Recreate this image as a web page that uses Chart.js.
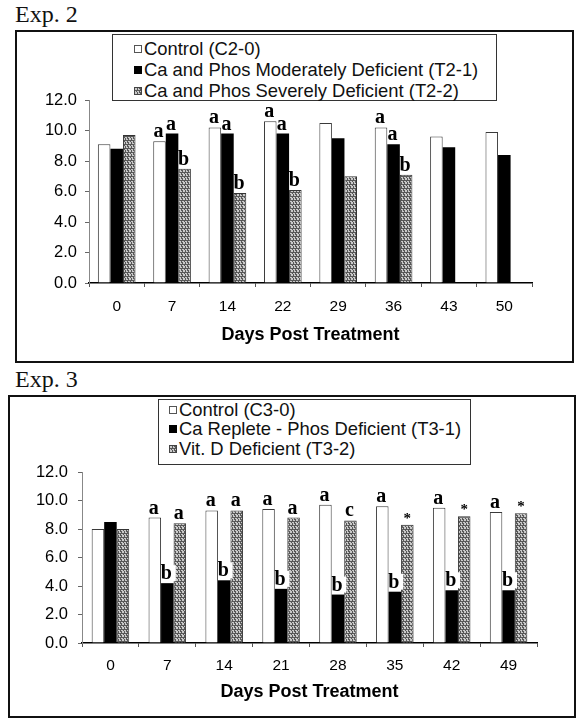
<!DOCTYPE html>
<html>
<head>
<meta charset="utf-8">
<script src="https://cdn.jsdelivr.net/npm/chart.js@4.4.1/dist/chart.umd.min.js"></script>
<style>
body { margin: 0; background: #fff; width: 577px; height: 719px; position: relative; overflow: hidden; font-family: "Liberation Sans", Arial, sans-serif; }
.exp { position: absolute; left: 15px; font-family: "Liberation Serif", "Times New Roman", serif; font-size: 24px; line-height: 24px; color: #111; }
.frame { position: absolute; box-sizing: border-box; border: 2px solid #111; pointer-events: none; }
canvas { position: absolute; }
.legend { position: absolute; box-sizing: border-box; border: 1px solid #333; background: #fff; font-size: 18.4px; color: #111; }
.legend .row { display: flex; align-items: center; white-space: nowrap; }
.legend .sw { width: 8px; height: 8px; box-sizing: border-box; margin-right: 2px; flex: none; }
</style>
</head>
<body>
<div class="exp" style="top:2px">Exp. 2</div>
<canvas id="chart2" width="559" height="333" style="left:15px;top:30px"></canvas>
<div class="frame" style="left:15px;top:30px;width:559px;height:333px"></div>
<div class="legend" id="legend2" style="left:112px;top:34px;width:385px;height:67px;padding:3px 0 0 21px"></div>

<div class="exp" style="top:367px">Exp. 3</div>
<canvas id="chart3" width="569" height="323" style="left:8px;top:395px"></canvas>
<div class="frame" style="left:8px;top:395px;width:568px;height:323px"></div>
<div class="legend" id="legend3" style="left:158px;top:399px;width:313px;height:66px;padding:0 0 0 10px"></div>

<script>
// Exp. 2
var days2 = ['0', '7', '14', '22', '29', '36', '43', '50'];
var names2 = ['Control (C2-0)', 'Ca and Phos Moderately Deficient (T2-1)', 'Ca and Phos Severely Deficient (T2-2)'];
var control2 = [9.1, 9.3, 10.2, 10.6, 10.5, 10.2, 9.6, 9.9];
var moderate2 = [8.8, 9.8, 9.8, 9.8, 9.5, 9.1, 8.9, 8.4];
var severe2 = [9.7, 7.5, 5.9, 6.1, 7.0, 7.1, null, null];
var marksControl2 = ['', 'a', 'a', 'a', '', 'a', '', ''];
var marksModerate2 = ['', 'a', 'a', 'a', '', 'a', '', ''];
var marksSevere2 = ['', 'b', 'b', 'b', '', 'b', '', ''];

// Exp. 3
var days3 = ['0', '7', '14', '21', '28', '35', '42', '49'];
var names3 = ['Control (C3-0)', 'Ca Replete - Phos Deficient (T3-1)', 'Vit. D Deficient (T3-2)'];
var control3 = [8.0, 8.8, 9.3, 9.4, 9.7, 9.6, 9.5, 9.2];
var phos3 = [8.5, 4.2, 4.4, 3.8, 3.4, 3.6, 3.7, 3.7];
var vitd3 = [8.0, 8.4, 9.3, 8.8, 8.6, 8.3, 8.9, 9.1];
var marksControl3 = ['', 'a', 'a', 'a', 'a', 'a', 'a', 'a'];
var marksPhos3 = ['', 'b', 'b', 'b', 'b', 'b', 'b', 'b'];
var marksVitd3 = ['', 'a', 'a', 'a', 'c', '*', '*', '*'];

var yMax = 12;
var yStep = 2;
var xTitle = 'Days Post Treatment';

function makeHatch() {
    var c = document.createElement('canvas');
    c.width = 6;
    c.height = 4;
    var g = c.getContext('2d');
    var rows = ['LLDLDD', 'LLDLLD', 'DDDDDD', 'LDLLDL'];
    for (var r = 0; r < rows.length; r++) {
        for (var k = 0; k < 6; k++) {
            g.fillStyle = rows[r][k] == 'L' ? '#c9c9c9' : '#575757';
            g.fillRect(k, r, 1, 1);
        }
    }
    return c;
}

var hatchCanvas = makeHatch();
var hatch = document.createElement('canvas').getContext('2d').createPattern(hatchCanvas, 'repeat');
var fills = ['#ffffff', '#000000', hatch];
var edges = ['#3a3a3a', '#000000', '#333333'];

const marksPlugin = {
    id: 'marks',
    afterDatasetsDraw(chart, args, opts) {
        const ctx = chart.ctx;
        ctx.save();
        ctx.textAlign = 'center';
        ctx.textBaseline = 'alphabetic';
        (opts.list || []).forEach(function (list, i) {
            const meta = chart.getDatasetMeta(i);
            list.forEach(function (m, j) {
                if (!m || !meta.data[j]) return;
                const bar = meta.data[j];
                if (m == '*') {
                    ctx.font = 'bold 15px "Liberation Serif"';
                    ctx.fillStyle = '#000';
                    ctx.fillText(m, bar.x, bar.y - 2);
                } else {
                    ctx.font = 'bold 20px "Liberation Serif"';
                    if (opts.boxed && opts.boxed[i]) {
                        ctx.fillStyle = '#fff';
                        ctx.fillRect(bar.x - 5.5, bar.y - 18, 14, 16);
                    }
                    ctx.fillStyle = '#000';
                    ctx.fillText(m, bar.x - 1, bar.y - 4);
                }
            });
        });
        ctx.restore();
    }
};

function buildLegend(id, names) {
    var box = document.getElementById(id);
    names.forEach(function (name, i) {
        var row = document.createElement('div');
        row.className = 'row';
        row.style.height = id == 'legend2' ? '21px' : '19.5px';
        var sw = document.createElement('span');
        sw.className = 'sw';
        if (i == 0) {
            sw.style.background = '#fff';
            sw.style.border = '1px solid #555';
        } else if (i == 1) {
            sw.style.background = '#000';
        } else {
            sw.style.backgroundImage = 'url(' + hatchCanvas.toDataURL() + ')';
            sw.style.border = '1px solid #444';
        }
        var txt = document.createElement('span');
        txt.textContent = name;
        row.appendChild(sw);
        row.appendChild(txt);
        box.appendChild(row);
    });
}

function renderGraph(id, days, names, series, marks, geo) {
    return new Chart(document.getElementById(id), {
        type: 'bar',
        data: {
            labels: days,
            datasets: series.map(function (values, i) {
                return {
                    label: names[i],
                    data: values,
                    backgroundColor: fills[i],
                    borderColor: edges[i],
                    borderWidth: i == 1 ? 0 : 1,
                    categoryPercentage: geo.cat,
                    barPercentage: 1.0
                };
            })
        },
        options: {
            responsive: false,
            animation: false,
            devicePixelRatio: 1,
            layout: { padding: { top: geo.top, right: geo.right, left: 0, bottom: 0 } },
            plugins: {
                legend: { display: false },
                tooltip: { enabled: false },
                marks: { list: marks, boxed: geo.boxed }
            },
            scales: {
                x: {
                    grid: { drawOnChartArea: false, tickLength: 4, color: '#555' },
                    border: { color: '#000', width: 1.5 },
                    ticks: { color: '#000', padding: geo.tickPad, font: { family: 'Liberation Sans', size: 15.5 } },
                    title: {
                        display: true,
                        text: xTitle,
                        color: '#000',
                        font: { family: 'Liberation Sans', size: 18, weight: 'bold' },
                        padding: { top: 0, bottom: geo.titlePad }
                    },
                    afterFit: function (scale) { scale.height = geo.xh; }
                },
                y: {
                    min: 0,
                    max: yMax,
                    grid: { drawOnChartArea: false, tickLength: 4, color: '#666' },
                    border: { color: '#888', width: 1 },
                    ticks: {
                        stepSize: yStep,
                        color: '#000',
                        padding: geo.yPad,
                        font: { family: 'Liberation Sans', size: 16.5 },
                        callback: function (v) { return v.toFixed(1); }
                    },
                    afterFit: function (scale) { scale.width = 74; }
                }
            }
        },
        plugins: [marksPlugin]
    });
}

buildLegend('legend2', names2);
buildLegend('legend3', names3);

renderGraph('chart2', days2, names2, [control2, moderate2, severe2],
    [marksControl2, marksModerate2, marksSevere2],
    { cat: 0.68, top: 70, right: 42, xh: 80, tickPad: 10, titlePad: 17, yPad: 8, boxed: [false, false, false] });

renderGraph('chart3', days3, names3, [control3, phos3, vitd3],
    [marksControl3, marksPhos3, marksVitd3],
    { cat: 0.66, top: 77, right: 40, xh: 75, tickPad: 9, titlePad: 15, yPad: 10, boxed: [false, true, false] });
</script>
</body>
</html>
